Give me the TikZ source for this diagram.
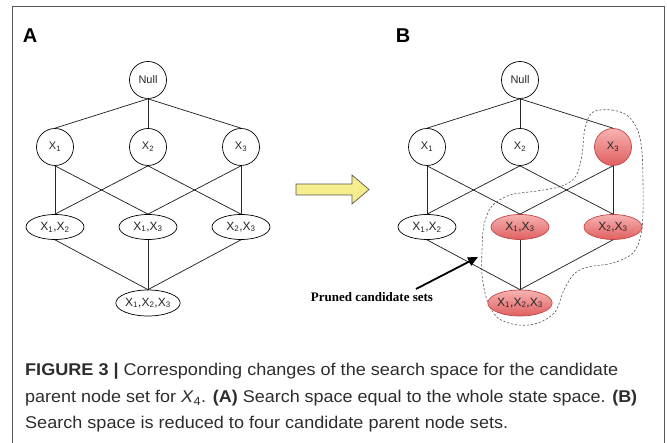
\documentclass[tikz,border=0pt]{standalone}
\usepackage{fontspec}
\setmainfont{Liberation Sans}
\newfontfamily\annotfont{Liberation Serif}
\usetikzlibrary{shapes.geometric,arrows.meta}
\definecolor{framegray}{RGB}{85,85,85}
\definecolor{captext}{RGB}{45,45,45}
\definecolor{arrowyellow}{RGB}{246,238,140}
\definecolor{redtop}{RGB}{247,178,178}
\definecolor{redbottom}{RGB}{224,96,96}
\definecolor{rededge}{RGB}{196,72,72}
\newcommand{\xs}[1]{X\textsubscript{#1}}
\begin{document}
\begin{tikzpicture}[x=1pt,y=-1pt,
  setcircle/.style={circle, draw=black, line width=0.7pt, minimum size=37pt,
    inner sep=0pt, text=black!85, font=\fontsize{11}{13}\selectfont},
  setoval/.style={ellipse, draw=black, line width=0.7pt, minimum width=58pt,
    minimum height=25pt, inner sep=0pt, text=black!85, font=\fontsize{12}{14}\selectfont},
  bigoval/.style={setoval, minimum width=61pt, minimum height=26pt},
  prunedset/.style={top color=redtop, bottom color=redbottom, draw=rededge},
  link/.style={line width=0.75pt, black!85},
  panelmark/.style={font=\fontsize{20}{22}\selectfont\bfseries},
  capline/.style={anchor=base west, inner sep=0pt, text=captext,
    font=\fontsize{17}{20}\selectfont}
]
\useasboundingbox (0,0) rectangle (667,443);

% outer frame
\draw[framegray, line width=1pt] (12,443) -- (12,7) -- (664,7) -- (664,443);

% ---------------- panel A ----------------
\node[panelmark] (labA) at (30,36) {A};
\node[setcircle] (aN)  at (148,80)  {Null};
\node[setcircle] (a1)  at (55,147)  {\xs1};
\node[setcircle] (a2)  at (148,147) {\xs2};
\node[setcircle] (a3)  at (241,147) {\xs3};
\node[setoval]   (a12) at (55,227)  {\xs1,\xs2};
\node[setoval]   (a13) at (148,227) {\xs1,\xs3};
\node[setoval]   (a23) at (241,227) {\xs2,\xs3};
\node[bigoval]   (a123) at (148,303) {\xs1,\xs2,\xs3};

\foreach \t in {a1,a2,a3} \draw[link] (aN.south) -- (\t.north);
\draw[link] (a1.south) -- (a12.north);
\draw[link] (a1.south) -- (a13.north);
\draw[link] (a2.south) -- (a12.north);
\draw[link] (a2.south) -- (a23.north);
\draw[link] (a3.south) -- (a13.north);
\draw[link] (a3.south) -- (a23.north);
\foreach \s in {a12,a13,a23} \draw[link] (\s.south) -- (a123.north);

% transition arrow
\draw[fill=arrowyellow, draw=framegray, line width=0.7pt]
  (296,184) -- (352,184) -- (352,175) -- (369,189.5) -- (352,204) -- (352,195) -- (296,195) -- cycle;

% ---------------- panel B ----------------
\node[panelmark] (labB) at (403,36) {B};

% region of the pruned candidate sets
\draw[framegray, line width=0.6pt, dash pattern=on 2.2pt off 1.8pt]
  plot[smooth cycle, tension=0.55] coordinates {
  (593,112) (612,110) (628,116) (638,131) (642,152) (643,183) (643,212)
  (641,235) (633,253) (613,263) (588,267) (574,274) (564,290) (555,312)
  (538,323) (518,325) (498,318) (487,300) (482,275) (482,250) (484,225)
  (492,206) (510,195) (537,191) (562,186) (576,176) (582,155) (585,128)};

\node[setcircle] (bN)  at (520,80)  {Null};
\node[setcircle] (b1)  at (427,147) {\xs1};
\node[setcircle] (b2)  at (520,147) {\xs2};
\node[setcircle, prunedset] (b3)  at (613,147) {\xs3};
\node[setoval, fill=white]   (b12) at (427,227) {\xs1,\xs2};
\node[setoval, prunedset]    (b13) at (520,227) {\xs1,\xs3};
\node[setoval, prunedset]    (b23) at (613,227) {\xs2,\xs3};
\node[bigoval, prunedset]    (b123) at (520,303) {\xs1,\xs2,\xs3};

\foreach \t in {b1,b2,b3} \draw[link] (bN.south) -- (\t.north);
\draw[link] (b1.south) -- (b12.north);
\draw[link] (b1.south) -- (b13.north);
\draw[link] (b2.south) -- (b12.north);
\draw[link] (b2.south) -- (b23.north);
\draw[link] (b3.south) -- (b13.north);
\draw[link] (b3.south) -- (b23.north);
\foreach \s in {b12,b13,b23} \draw[link] (\s.south) -- (b123.north);

% annotation
\node[font=\annotfont\fontsize{13}{15}\selectfont\bfseries, inner sep=0pt]
  (note) at (372,297) {Pruned candidate sets};
\coordinate (ntail) at (416,289);
\coordinate (nhead) at (478,257);
\draw[line width=1.8pt, -{Triangle[length=10pt,width=9pt]}] (ntail) -- (nhead);

% ---------------- caption ----------------
\node[capline] (cap1) at (25,376) {\resizebox{593pt}{\height}{\textbf{FIGURE 3 |} Corresponding changes of the search space for the candidate}};
\node[capline] (cap2) at (25,403) {\resizebox{612pt}{\height}{parent node set for \textit{X}\textsubscript{4}. \textbf{(A)} Search space equal to the whole state space. \textbf{(B)}}};
\node[capline] (cap3) at (25,429) {\resizebox{483pt}{\height}{Search space is reduced to four candidate parent node sets.}};
\end{tikzpicture}
\end{document}
